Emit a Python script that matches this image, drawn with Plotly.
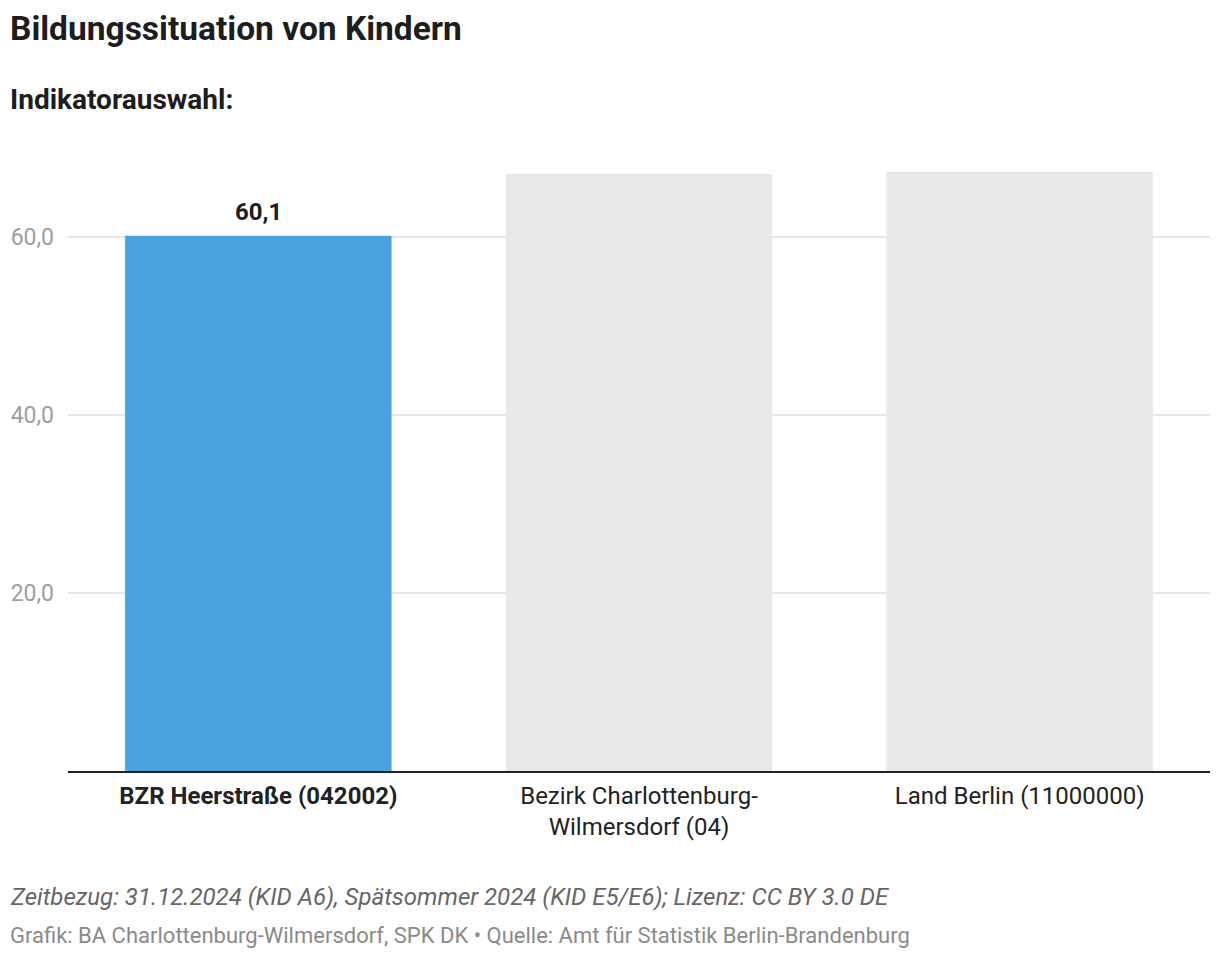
import plotly.graph_objects as go

categories = ["BZR Heerstraße (042002)", "Bezirk Charlottenburg-Wilmersdorf (04)", "Land Berlin (11000000)"]
tick_labels = ["<b>BZR Heerstraße (042002)</b>", "Bezirk Charlottenburg-<br>Wilmersdorf (04)", "Land Berlin (11000000)"]
values = [60.1, 67.05, 67.3]
highlight = [True, False, False]

title = "Bildungssituation von Kindern"
subtitle = "Indikatorauswahl:"
note = "Zeitbezug: 31.12.2024 (KID A6), Spätsommer 2024 (KID E5/E6); Lizenz: CC BY 3.0 DE"
source = "Grafik: BA Charlottenburg-Wilmersdorf, SPK DK • Quelle: Amt für Statistik Berlin-Brandenburg"

OFF = 8  # page body margin
W, H = 1212, 950
ML, MR, MT, MB = 60, 10, 142, 187
PLOT_H = H - MT - MB

def py(pix):
    return (H - MB - (pix - OFF)) / PLOT_H

def px(pix):
    return (pix - OFF - ML) / (W - ML - MR)

colors = ["#4aa3df" if h else "#e8e8e8" for h in highlight]

fig = go.Figure(go.Bar(
    x=categories, y=values,
    marker=dict(color=colors, line=dict(width=0)),
    hoverinfo="skip",
))

for cat, v, h in zip(categories, values, highlight):
    if h:
        fig.add_annotation(x=cat, y=v, xref="x", yref="y",
                           text="<b>" + f"{v:.1f}".replace(".", ",") + "</b>",
                           showarrow=False, yanchor="bottom", yshift=8,
                           font=dict(family="Roboto", size=24, color="#1d1d1d"))

fig.update_layout(
    width=W, height=H,
    margin=dict(l=ML, r=MR, t=MT, b=MB, autoexpand=False),
    paper_bgcolor="white", plot_bgcolor="white",
    font=dict(family="Roboto", color="#333"),
    separators=",.",
    bargap=0.3,
    showlegend=False,
)

fig.update_xaxes(
    tickmode="array", tickvals=categories, ticktext=tick_labels,
    tickfont=dict(family="Roboto", size=24, color="#222"),
    showline=True, linecolor="#222", linewidth=2,
    showgrid=False, ticks="", fixedrange=True, ticklabelstandoff=2,
    automargin=False,
)
fig.update_yaxes(
    range=[0, PLOT_H / 8.905],
    tickvals=[20, 40, 60], tickformat=".1f",
    tickfont=dict(family="Roboto", size=23, color="#9e9e9e"),
    showgrid=True, gridcolor="#e6e6e6", gridwidth=2,
    zeroline=False, showline=False, ticks="", ticklabelstandoff=13,
    automargin=False,
)

fig.add_annotation(text=f"<b>{title}</b>", xref="paper", yref="paper",
                   x=px(8), y=py(28), xanchor="left", yanchor="middle", showarrow=False,
                   font=dict(family="Roboto", size=33.5, color="#1d1d1d"))
fig.add_annotation(text=f"<b>{subtitle}</b>", xref="paper", yref="paper",
                   x=px(8), y=py(99), xanchor="left", yanchor="middle", showarrow=False,
                   font=dict(family="Roboto", size=28, color="#1d1d1d"))
fig.add_annotation(text=f"<i>{note}</i>", xref="paper", yref="paper",
                   x=px(8), y=py(897), xanchor="left", yanchor="middle", showarrow=False,
                   font=dict(family="Roboto", size=24, color="#666"))
fig.add_annotation(text=source, xref="paper", yref="paper",
                   x=px(8), y=py(935), xanchor="left", yanchor="middle", showarrow=False,
                   font=dict(family="Roboto", size=22, color="#8a8a8a"))

fig.write_html("out.html")
